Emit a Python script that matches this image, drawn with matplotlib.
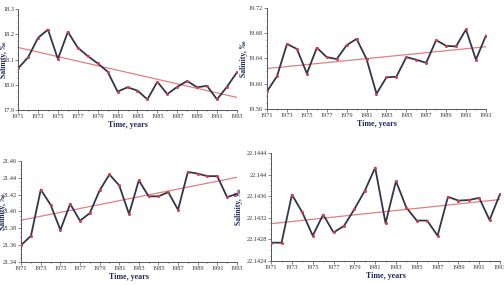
import matplotlib
matplotlib.use("Agg")
import matplotlib.pyplot as plt
import numpy as np
from matplotlib.ticker import MultipleLocator, FixedLocator, FormatStrFormatter

plt.rcParams['font.family'] = ['Liberation Serif', 'DejaVu Serif']

years = list(range(1971, 1994))

sal_1 = [18.065, 18.109, 18.186, 18.219, 18.102, 18.210, 18.147, 18.114, 18.085, 18.052,
         17.973, 17.990, 17.977, 17.942, 18.012, 17.963, 17.992, 18.015, 17.990, 17.996,
         17.942, 17.992, 18.049]
sal_2 = [19.588, 19.612, 19.663, 19.655, 19.616, 19.657, 19.642, 19.639, 19.661, 19.671,
         19.639, 19.584, 19.610, 19.611, 19.642, 19.638, 19.633, 19.669, 19.660, 19.659,
         19.686, 19.638, 19.676]
sal_3 = [21.360, 21.371, 21.426, 21.408, 21.378, 21.409, 21.389, 21.398, 21.425, 21.444,
         21.431, 21.397, 21.437, 21.418, 21.418, 21.423, 21.402, 21.447, 21.445, 21.442,
         21.442, 21.417, 21.421]
sal_4 = [22.14274, 22.14274, 22.14363, 22.14330, 22.14287, 22.14326, 22.14293, 22.14305,
         22.14336, 22.14370, 22.14413, 22.14310, 22.14388, 22.14339, 22.14315, 22.14315,
         22.14287, 22.14359, 22.14352, 22.14353, 22.14357, 22.14316, 22.14364]

series = [sal_1, sal_2, sal_3, sal_4]
ylims = [(17.9, 18.3), (19.56, 19.72), (21.34, 21.46), (22.1424, 22.1444)]
ysteps = [0.1, 0.04, 0.02, 0.0004]
yfmts = ['%.1f', '%.2f', '%.2f', None]
boxes = [[0.036, 0.614, 0.434, 0.354],
         [0.530, 0.618, 0.434, 0.354],
         [0.042, 0.081, 0.428, 0.354],
         [0.538, 0.084, 0.454, 0.379]]
ylab_x = [-0.048, -0.087, -0.066, -0.122]

navy = '#1f2a5c'
fig = plt.figure(figsize=(5.04, 2.85), dpi=100)

for i in range(4):
    ax = fig.add_axes(boxes[i])
    y = np.array(series[i])
    x = np.array(years)
    # linear trend
    k, b = np.polyfit(x, y, 1)
    ax.plot(x, k * x + b, color='#e08080', lw=0.9, zorder=2)
    ax.plot(x, y, color='#35354a', lw=1.3, zorder=3)
    ax.plot(x, y, 'o', color='#d04050', ms=1.2, zorder=4)
    ax.set_xlim(1971, 1993)
    ax.set_ylim(*ylims[i])
    ax.xaxis.set_major_locator(FixedLocator(years[::2]))
    ax.xaxis.set_minor_locator(MultipleLocator(1))
    ax.yaxis.set_major_locator(MultipleLocator(ysteps[i]))
    ax.yaxis.set_minor_locator(MultipleLocator(ysteps[i] / 4))
    if yfmts[i]:
        ax.yaxis.set_major_formatter(FormatStrFormatter(yfmts[i]))
    else:
        ax.yaxis.set_major_formatter(plt.FuncFormatter(lambda v, p: ('%.4f' % v).rstrip('0')))
    for s in ['top', 'right']:
        ax.spines[s].set_visible(False)
    for s in ['left', 'bottom']:
        ax.spines[s].set_color('#555566')
        ax.spines[s].set_linewidth(0.7)
    ax.tick_params(which='both', labelsize=4.5, colors='#555566', labelcolor='#333333',
                   length=2, width=0.5, pad=1)
    ax.tick_params(which='minor', length=1)
    ax.set_xlabel('Time, years', fontsize=5.8, fontweight='bold', color=navy, labelpad=1.5)
    ax.set_ylabel('Salinity, ‰', fontsize=5.6, fontweight='bold', color=navy)
    ax.yaxis.set_label_coords(ylab_x[i], 0.5)

fig.savefig('out.png', dpi=100)
